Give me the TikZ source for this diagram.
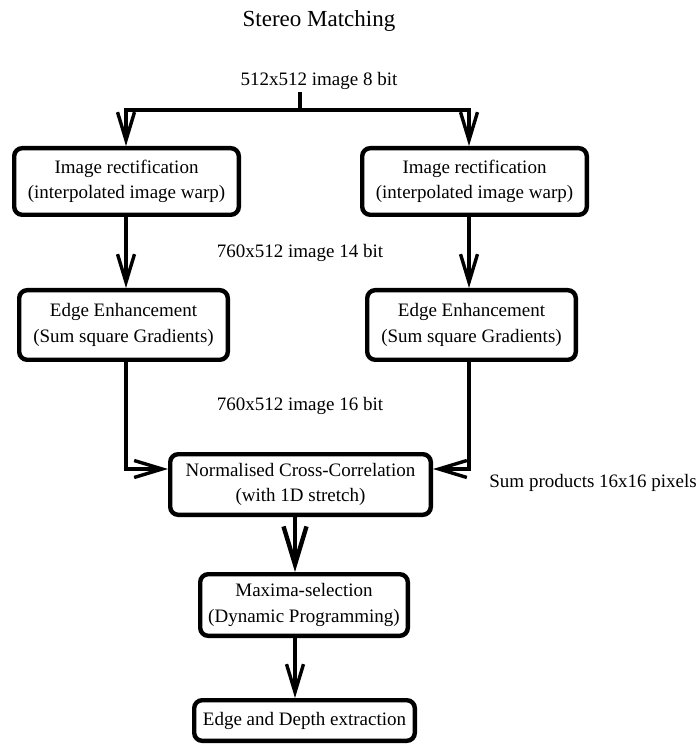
\documentclass[tikz,border=0pt]{standalone}
\usepackage{fontspec}
\setmainfont{Liberation Serif}
\usetikzlibrary{arrows.meta}

\begin{document}
\begin{tikzpicture}[x=0.5pt,y=-0.5pt,
    box/.style={draw, line width=2.2pt, rounded corners=4pt, inner sep=0pt,
                align=center, font=\fontsize{9.5}{12.8}\selectfont},
    lab/.style={anchor=base, inner sep=1pt, font=\fontsize{9.5}{11}\selectfont},
    wire/.style={line width=1.7pt},
    arr/.style={wire, -{Straight Barb[length=14pt,width=8.5pt]}},
    bigarr/.style={line width=2.2pt, -{Straight Barb[length=19pt,width=11.5pt]}}]
\useasboundingbox (0,0) rectangle (698,747);

\node [lab, font=\fontsize{11.5}{13}\selectfont] (title) at (319,27) {Stereo Matching};
\node [lab] (lab8) at (319,86) {512x512 image 8 bit};
\node [lab] (lab14) at (300,258) {760x512 image 14 bit};
\node [lab] (lab16) at (300,410) {760x512 image 16 bit};
\node [lab, anchor=base west] (labsum) at (487,487) {Sum products 16x16 pixels};

% boxes
\node [box, minimum width=112.3pt, minimum height=33.3pt] (rectL) at (126.5,181.5)
    {Image rectification\\(interpolated image warp)};
\node [box, minimum width=112.3pt, minimum height=33.3pt] (rectR) at (474.5,181.5)
    {Image rectification\\(interpolated image warp)};
\node [box, minimum width=104.3pt, minimum height=34.8pt] (edgeL) at (123.5,325)
    {Edge Enhancement\\(Sum square Gradients)};
\node [box, minimum width=104.3pt, minimum height=34.8pt] (edgeR) at (471.5,325)
    {Edge Enhancement\\(Sum square Gradients)};
\node [box, minimum width=130.3pt, minimum height=30.3pt] (ncc) at (300.5,484.5)
    {Normalised Cross-Correlation\\(with 1D stretch)};
\node [box, minimum width=103.8pt, minimum height=30.8pt] (maxsel) at (304,605)
    {Maxima-selection\\(Dynamic Programming)};
\node [box, minimum width=110.3pt, minimum height=20.3pt] (depth) at (304.5,720.5)
    {Edge and Depth extraction};

% columns and rows the wires run on
\coordinate (split) at (300,110);
\coordinate (colL) at (126,0);
\coordinate (colR) at (469,0);
\coordinate (colM) at (295,0);
\coordinate (rowN) at (0,469);

% connectors
\draw [wire] (lab8.south -| split) -- (split);
\draw [arr] (split) -| (rectL.north -| colL);
\draw [arr] (split) -| (rectR.north -| colR);
\draw [arr] (rectL.south -| colL) -- (edgeL.north -| colL);
\draw [arr] (rectR.south -| colR) -- (edgeR.north -| colR);
\draw [arr] (edgeL.south -| colL) |- (ncc.west |- rowN);
\draw [arr] (edgeR.south -| colR) |- (ncc.east |- rowN);
\draw [bigarr] (ncc.south -| colM) -- (maxsel.north -| colM);
\draw [arr] (maxsel.south -| colM) -- (depth.north -| colM);

\end{tikzpicture}
\end{document}
